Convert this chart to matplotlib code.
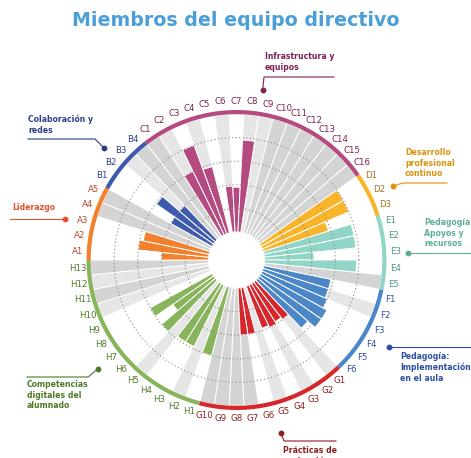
import numpy as np
import matplotlib
matplotlib.use("Agg")
import matplotlib.pyplot as plt
from matplotlib.lines import Line2D

# ---------------- data ----------------
groups = ["A", "B", "C", "D", "E", "F", "G", "H"]
group_sizes = [5, 4, 16, 3, 5, 6, 10, 13]
group_titles = ["Liderazgo", "Colaboración y\nredes", "Infrastructura y\nequipos",
                "Desarrollo\nprofesional\ncontinuo", "Pedagogía:\nApoyos y\nrecursos",
                "Pedagogía:\nImplementación\nen el aula", "Prácticas de\nevaluación",
                "Competencias\ndigitales del\nalumnado"]
vals_A = [2.0, 3.0, 2.85, 0, 0]
vals_B = [2.0, 2.95, 2.0, 0]
vals_C = [0, 3.0, 4.0, 2.9, 0, 1.95, 1.9, 3.9, 0, 0, 0, 0, 0, 0, 0, 0]
vals_D = [4.0, 4.0, 2.9]
vals_E = [3.9, 3.9, 2.1, 3.9, 0]
vals_F = [2.9, 2.9, 3.0, 3.2, 3.2, 2.8]
vals_G = [2.0, 1.9, 2.0, 1.9, 0, 2.0, 2.0, 0, 0, 0]
vals_H = [3.0, 0, 2.9, 2.9, 0, 3.0, 2.1, 3.0, 0, 0, 0, 0, 0]
# background shading: 0 none, 1 light gray, 2 gray
bg_A = [0, 0, 0, 2, 2]
bg_B = [0, 0, 1, 2]
bg_C = [2, 1, 0, 1, 0, 1, 0, 1, 1, 2, 2, 2, 2, 2, 2, 2]
bg_D = [0, 0, 0]
bg_E = [0, 0, 0, 0, 2]
bg_F = [0, 1, 0, 0, 0, 0]
bg_G = [1, 0, 1, 0, 1, 0, 2, 2, 2, 2]
bg_H = [0, 1, 0, 0, 1, 0, 0, 0, 0, 1, 2, 1, 2]

bar_colors = ["#f47f2c", "#3d5aad", "#b54a80", "#f8b52c", "#90d5c5", "#4a86c8", "#d7262b", "#88b55b"]
label_colors = ["#b9482a", "#2b3f86", "#7d2352", "#a8711a", "#4a9886", "#2d4fa3", "#8e1f1f", "#4d7a27"]
title_colors = ["#e3522d", "#2b3f86", "#7d2352", "#d9930c", "#5cae9b", "#2d4fa3", "#8e1f1f", "#4d7a27"]

values = vals_A + vals_B + vals_C + vals_D + vals_E + vals_F + vals_G + vals_H
bgs = bg_A + bg_B + bg_C + bg_D + bg_E + bg_F + bg_G + bg_H
names = [g + str(k + 1) for g, n in zip(groups, group_sizes) for k in range(n)]
gidx = [gi for gi, n in enumerate(group_sizes) for _ in range(n)]

# ---------------- geometry ----------------
W, H = 471, 458
CX, CY = 236.5, 260.0
R0, PXU, RMAX = 28.0, 23.6, 5.15
RAX = R0 + PXU * RMAX

fig = plt.figure(figsize=(W / 100, H / 100), dpi=100)
ax = fig.add_axes([(CX - RAX) / W, 1 - (CY + RAX) / H, 2 * RAX / W, 2 * RAX / H], projection="polar")
ax.set_rorigin(-R0 / PXU)
ax.set_ylim(0, RMAX)
ax.axis("off")

N = len(names)
w = 2 * np.pi / N
theta = np.pi - w * (np.arange(N) + 0.5)

bg_col = {1: "#e6e6e6", 2: "#d4d4d4"}
for i in range(N):
    if bgs[i]:
        ax.bar(theta[i], 5.0, width=w, bottom=0, color=bg_col[bgs[i]], edgecolor="white", linewidth=0.7, zorder=1)
for i in range(N):
    if values[i] > 0:
        ax.bar(theta[i], values[i], width=w, bottom=0, color=bar_colors[gidx[i]], edgecolor="white", linewidth=0.7, zorder=2)

# dotted grid circles
tt = np.linspace(0, 2 * np.pi, 400)
for rv in [1, 2, 3, 4]:
    ax.plot(tt, np.full_like(tt, rv), color="#8c8c8c", lw=0.8, ls=(0, (1, 2.2)), zorder=3)

# ring and labels
start = 0
for gi, n in enumerate(group_sizes):
    t0 = np.pi - w * start
    t1 = np.pi - w * (start + n)
    ts = np.linspace(t0, t1, 60)
    ax.plot(ts, np.full_like(ts, 5.08), color=bar_colors[gi], lw=3.0, solid_capstyle="butt", clip_on=False, zorder=4)
    start += n
for i in range(N):
    ax.text(theta[i], 5.55, names[i], ha="center", va="center", fontsize=6.2,
            color=label_colors[gidx[i]], clip_on=False)

# group annotations (pixel coordinates)
def P(x, y):
    return (x / W, 1 - y / H)

dots = [(65, 219), (104, 148), (262.7, 89.7), (393.3, 186), (408, 253), (389, 347), (281, 433), (97.7, 369)]
paths = [
    [(10, 219), (65, 219)],
    [(28, 139), (95, 139), (104, 148)],
    [(334, 77), (264, 77), (262.7, 89.7)],
    [(393.3, 186), (403, 183), (447, 183)],
    [(408, 253), (471, 253)],
    [(389, 347), (471, 347)],
    [(281, 433), (284, 441), (336, 441)],
    [(97.7, 369), (88, 377), (27, 377)],
]
text_pos = [(12, 203), (28, 115), (265, 52), (405, 148), (424, 218), (400, 352), (283, 446), (27, 380)]

for gi in range(8):
    xs = [P(*p)[0] for p in paths[gi]]
    ys = [P(*p)[1] for p in paths[gi]]
    fig.add_artist(Line2D(xs, ys, color=title_colors[gi], lw=0.8, transform=fig.transFigure))
    dx, dy = P(*dots[gi])
    fig.add_artist(Line2D([dx], [dy], marker="o", ms=3.2, color=title_colors[gi], transform=fig.transFigure))
    tx, ty = P(*text_pos[gi])
    fig.text(tx, ty, group_titles[gi], ha="left", va="top", fontsize=5.6, fontweight="bold",
             color=title_colors[gi], linespacing=1.25)

fig.text(0.501, 1 - 20.5 / H, "Miembros del equipo directivo", ha="center", va="center",
         fontsize=13.7, fontweight="bold", color="#4a9fd8")

fig.savefig("out.png", dpi=100)
